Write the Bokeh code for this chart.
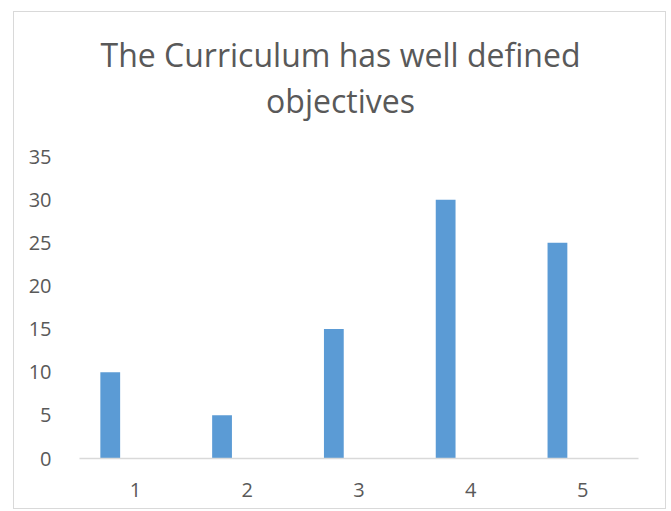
from bokeh.plotting import figure
from bokeh.models import Label, FixedTicker, ColumnDataSource
from bokeh.transform import dodge
from bokeh.embed import file_html
from bokeh.resources import INLINE

categories = [1, 2, 3, 4, 5]
values = [10, 5, 15, 30, 25]
y_ticks = [0, 5, 10, 15, 20, 25, 30, 35]
title_line1 = "The Curriculum has well defined"
title_line2 = "objectives"

FONT = "Open Sans"
GRAY = "#595959"

source = ColumnDataSource(data=dict(x=categories, top=values))

# frame extends above the last tick to leave room for the title (no outline drawn)
p = figure(width=653, height=498, x_range=(0.5, 5.5), y_range=(0, 51.69),
           output_backend="svg", toolbar_location=None, title=None,
           min_border_left=65, min_border_right=29, min_border_bottom=52,
           min_border_top=0, margin=(11, 0, 0, 13))
p.styles = {"border": "1px solid #d9d9d9"}
p.outline_line_color = None
p.xgrid.grid_line_color = None
p.ygrid.grid_line_color = None
p.background_fill_color = "white"
p.border_fill_color = "white"

for txt, yy in ((title_line1, 404), (title_line2, 358)):
    p.add_layout(Label(x=261, y=yy, x_units="screen", y_units="screen", text=txt,
                       text_align="center", text_baseline="alphabetic",
                       text_font=FONT, text_font_size="32px", text_color=GRAY))

p.vbar(x=dodge("x", -0.225, range=p.x_range), top="top", width=0.177, source=source,
       fill_color="#5b9bd5", line_color=None)

p.xaxis.ticker = FixedTicker(ticks=categories)
p.yaxis.ticker = FixedTicker(ticks=y_ticks)
for ax in (p.xaxis, p.yaxis):
    ax.major_tick_line_color = None
    ax.minor_tick_line_color = None
    ax.major_label_text_font = FONT
    ax.major_label_text_font_size = "20px"
    ax.major_label_text_color = GRAY
p.yaxis.axis_line_color = None
p.yaxis.major_label_standoff = 22
p.xaxis.axis_line_color = "#d9d9d9"
p.xaxis.axis_line_width = 1.5
p.xaxis.major_label_standoff = 18

open("out.html", "w").write(file_html(p, INLINE))
